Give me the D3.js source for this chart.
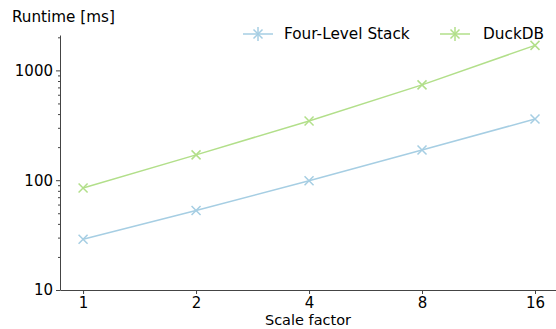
<!DOCTYPE html>
<html>
<head>
<meta charset="utf-8">
<script src="https://cdn.jsdelivr.net/npm/d3@7"></script>
<style>
  body { margin: 0; background: #fff; }
  svg text { font-family: "DejaVu Sans", sans-serif; fill: #000; }
</style>
</head>
<body>
<div id="chart"></div>
<script>
const scaleFactors = [1, 2, 4, 8, 16];
const fourLevel = [29, 53, 99, 188, 361];
const duckdb = [85, 170, 346, 738, 1690];
const seriesNames = ["Four-Level Stack", "DuckDB"];
const yTicks = [10, 100, 1000];

const width = 556, height = 329;
const svg = d3.select("#chart").append("svg")
  .attr("width", width).attr("height", height);

const x = d3.scaleLog().base(2).domain([0.868, 18.2]).range([60, 556]);
const y = d3.scaleLog().domain([10, 2100]).range([290, 35]);

const series = [
  {name: seriesNames[0], values: fourLevel, color: "#a6cee3"},
  {name: seriesNames[1], values: duckdb, color: "#b2df8a"}
];

// axes
const xAxis = svg.append("g")
  .attr("transform", "translate(0,290)")
  .call(d3.axisBottom(x).tickValues(scaleFactors).tickFormat(d3.format("d")).tickSize(4).tickSizeOuter(0));
xAxis.selectAll("text").attr("font-size", "15px");

const minor = [];
for (let p = 10; p < 2100; p *= 10) {
  for (let k = 2; k <= 9; k++) if (p * k <= 2100) minor.push(p * k);
}
const yMinor = svg.append("g")
  .attr("transform", "translate(60,0)")
  .call(d3.axisLeft(y).tickValues(minor).tickFormat("").tickSize(2).tickSizeOuter(0));
yMinor.select("path.domain").remove();

const yAxis = svg.append("g")
  .attr("transform", "translate(60,0)")
  .call(d3.axisLeft(y).tickValues(yTicks).tickFormat(d3.format("d")).tickSize(4).tickSizeOuter(0));
yAxis.selectAll("text").attr("font-size", "15px");

svg.selectAll(".domain, .tick line").attr("stroke", "#444").attr("stroke-width", 1);

// labels
svg.append("text").attr("x", 12).attr("y", 22).attr("font-size", "15.2px").text("Runtime [ms]");
svg.append("text").attr("x", 308).attr("y", 325).attr("text-anchor", "middle")
  .attr("font-size", "14.5px").text("Scale factor");

// lines + markers
const line = d3.line().x((d, i) => x(scaleFactors[i])).y(d => y(d));

function cross(g, cx, cy, r, color) {
  g.append("path")
    .attr("d", `M${cx - r},${cy - r}L${cx + r},${cy + r}M${cx - r},${cy + r}L${cx + r},${cy - r}`)
    .attr("stroke", color).attr("stroke-width", 1.5).attr("fill", "none");
}

series.forEach(s => {
  svg.append("path").datum(s.values)
    .attr("d", line).attr("fill", "none")
    .attr("stroke", s.color).attr("stroke-width", 1.5);
  const g = svg.append("g");
  s.values.forEach((v, i) => cross(g, x(scaleFactors[i]), y(v), 4.5, s.color));
});

// legend
const legendPos = [{hx: 243, tx: 284}, {hx: 440, tx: 483}];
series.forEach((s, i) => {
  const lg = svg.append("g");
  const hx = legendPos[i].hx, ly = 34;
  lg.append("line").attr("x1", hx).attr("x2", hx + 30).attr("y1", ly).attr("y2", ly)
    .attr("stroke", s.color).attr("stroke-width", 1.5);
  lg.append("line").attr("x1", hx + 15).attr("x2", hx + 15).attr("y1", ly - 7).attr("y2", ly + 7)
    .attr("stroke", s.color).attr("stroke-width", 1.5);
  cross(lg, hx + 15, ly, 4.5, s.color);
  lg.append("text").attr("x", legendPos[i].tx).attr("y", ly + 5)
    .attr("font-size", "15.3px").text(s.name);
});
</script>
</body>
</html>
